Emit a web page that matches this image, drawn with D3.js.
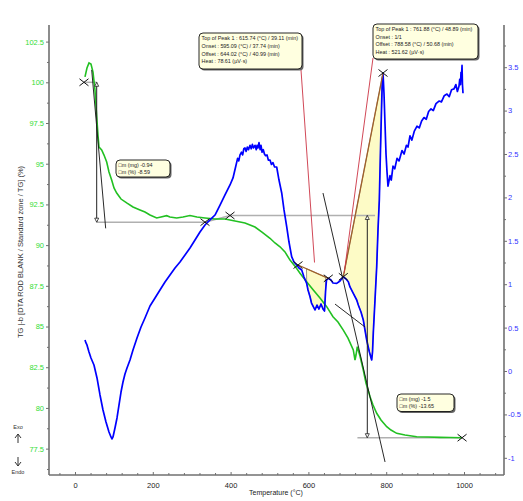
<!DOCTYPE html>
<html><head><meta charset="utf-8">
<script src="https://cdn.jsdelivr.net/npm/d3@7"></script>
<style>body{margin:0;background:#fff}svg{display:block;font-family:"Liberation Sans",Arial,sans-serif}</style>
</head><body><svg id="c" width="523" height="501"></svg>
<script>
// ---- data ----
const tgT = [25.7,30.8,36,41.1,46.3,51.4,55.8,59.1,61.7,68.6,74.6,81.5,87.4,94.3,100.3,107.2,118.3,132.9,149.1,167.1,179.9,192.8,210,221,235.7,244,261.4,277.6,295.6,313.6,334.2,359.9,385.6,411.3,437,462.7,480.7,501.3,514.1,527,539.8,552.7,565.6,578.4,593.8,612.6,629.8,647,663.2,676,689.7,701.8,715.4,719.8,722.4,725.7,732.6,741.1,748,758.4,766.1,775.6,786.6,801.3,812.3,827,848.3,878.4,907.5,938.3,964,994.1];
const tgV = [100.33,100.88,101.19,101.12,100.63,99.53,97.89,96.76,96.03,95.84,95.53,95.10,94.49,94.0,93.51,93.20,92.83,92.59,92.34,92.16,92.03,91.85,91.67,91.73,91.81,91.73,91.67,91.73,91.82,91.73,91.67,91.60,91.60,91.48,91.36,91.11,90.80,90.42,90.13,89.90,89.58,89.08,88.71,88.27,87.79,87.24,86.75,86.22,85.60,85.28,84.78,84.29,83.56,82.94,83.25,83.76,83.19,82.33,81.53,80.69,80.18,79.67,79.26,78.85,78.64,78.44,78.34,78.23,78.21,78.19,78.18,78.17];
const dtaT = [25.7,28.3,30.8,36,41.1,48.8,56.6,64.3,72,79.7,87.4,92.5,95.1,97.7,102.8,108,113.1,118.3,123.4,128.5,133.7,141.4,149.1,159.4,169.7,179.9,192.8,205.7,218.5,231.4,244.2,257.1,269.9,282.8,295.6,308.5,321.3,334.2,347,359.9,372.8,385.6,398.5,406.2,
  413.9,418,421,424.2,428,431,434,437,440,443,446,449.9,453,456,459,462.7,466,468,470.4,473,476,478.1,481,484,487,490,493.6,497,501.3,505,509,513,518.5,
  524.4,531.4,537.3,544.2,550.1,557,562.9,569.9,575.8,582.8,588.7,595.6,599,604.2,608,612.6,617,622.1,627.2,632.4,637.5,641.4,644,646.5,651.2,658.1,663.2,672.8,681.2,689.7,696.7,702.6,706.9,715.4,724.2,728.3,735.2,741.1,745.5,749.9,753.2,756.6,759.7,762.7,764.8,766.8,771.2,775.6,778.9,782.3,785.3,787.9,790,791.8,794.3,796.9,799.5,802,804.6,
  809.8,813,817.5,822,827.8,833,840.6,846,852,856,861.2,866,872,879.2,885,891,897.2,903,909,915.2,921,928,935.7,942,949,956.3,962,968,974.3,979,983,987.1,989,991,992.3,993.5,994.9,996,997.4];
const dtaV = [0.357,0.323,0.30,0.219,0.15,0.069,-0.08,-0.276,-0.449,-0.588,-0.703,-0.76,-0.783,-0.76,-0.657,-0.541,-0.392,-0.242,-0.127,-0.035,0.035,0.127,0.242,0.38,0.507,0.611,0.749,0.841,0.933,1.025,1.106,1.187,1.256,1.336,1.417,1.509,1.601,1.682,1.74,1.797,1.912,2.028,2.143,2.224,
  2.37,2.45,2.42,2.49,2.52,2.49,2.56,2.57,2.53,2.58,2.55,2.6,2.56,2.61,2.57,2.6,2.55,2.6,2.57,2.63,2.55,2.6,2.52,2.55,2.5,2.48,2.49,2.43,2.43,2.38,2.40,2.35,2.35,
  2.2,2.051,1.855,1.662,1.486,1.317,1.256,1.221,1.187,1.164,1.083,1.01,0.933,0.856,0.783,0.741,0.703,0.76,0.714,0.772,0.714,0.691,0.91,1.048,1.068,1.048,1.014,1.010,1.037,1.086,1.06,1.029,0.968,0.895,0.818,0.76,0.68,0.588,0.472,0.357,0.288,0.222,0.173,0.127,0.219,0.438,0.818,1.202,1.624,1.97,2.546,3.007,3.353,3.433,3.2,2.85,2.5,2.3,2.13,
  2.25,2.2,2.36,2.33,2.45,2.42,2.54,2.5,2.6,2.58,2.71,2.66,2.76,2.82,2.8,2.88,2.92,2.9,2.99,3.02,3.0,3.08,3.11,3.1,3.17,3.19,3.16,3.24,3.25,3.3,3.22,3.28,3.36,3.3,3.44,3.38,3.52,3.3,3.2];
const leftTicks = [77.5,80,82.5,85,87.5,90,92.5,95,97.5,100,102.5];
const rightTicks = [-1,-0.5,0,0.5,1,1.5,2,2.5,3,3.5];
const xTicks = [0,200,400,600,800,1000];
// annotations (data units)
const tgMarks = [[23.1,100.0],[334.2,91.41],[398.5,91.82],[995,78.17]];
const dtaMarks = [[573.3,1.221],[651.2,1.068],[689.7,1.086],[791.8,3.433]];
const peak1 = {base:[[573.3,1.221],[651.2,1.068]], onset:595.09, offset:644.02, top:615.74, lead:[615.74,1.25]};
const peak2 = {base:[[689.7,1.086],[791.8,3.433]], onset:689.7, offset:791.8, top:761.88, lead:[692,1.13]};
const step1 = {t0:23.1, t1:55.8, hi:100.0, lo:91.41, tEnd:334.2, tan:[[42.9,100.76],[78.9,91.03]]};
const step2 = {t0:398.5, tArrow:751.4, hi:91.82, lo:78.17, tLo:726, tEnd:995, tan:[[637.5,93.2],[797,76.68]], tan2:[[668.4,86.38],[745.5,84.97]]};
const box1 = ["Top of Peak 1 :  615.74 (°C) / 39.11 (min)","Onset :  595.09 (°C) / 37.74 (min)","Offset :  644.02 (°C) / 40.99 (min)","Heat :  78.61 (µV·s)"];
const box2 = ["Top of Peak 1 :  761.88 (°C) / 48.89 (min)","Onset :  1/1","Offset :  788.58 (°C) / 50.68 (min)","Heat :  521.62 (µV·s)"];
const box3 = ["□m (mg) -0.94","□m (%) -8.59"];
const box4 = ["□m (mg) -1.5","□m (%) -13.65"];

// ---- layout ----
const svg = d3.select("#c");
const L=49,R=504,T=25,B=475;
const x = d3.scaleLinear().domain([-66.8,1102.8]).range([L,R]);
const yL = d3.scaleLinear().domain([75.88,103.52]).range([B,T]);
const yR = d3.scaleLinear().domain([-1.198,3.986]).range([B,T]);
const axisCol="#707070", greenCol="#22c022", blueCol="#0000ff";

// axes
const gl = svg.append("g").attr("transform",`translate(${L},0)`).call(d3.axisLeft(yL).tickValues(leftTicks).tickSize(3).tickPadding(2).tickFormat(d=>d));
const glm = svg.append("g").attr("transform",`translate(${L},0)`).call(d3.axisLeft(yL).tickValues(d3.range(76.25,103.6,2.5)).tickSize(2).tickFormat(""));
const gr = svg.append("g").attr("transform",`translate(${R},0)`).call(d3.axisRight(yR).tickValues(rightTicks).tickSize(3).tickPadding(1).tickFormat(d=>d));
const grm = svg.append("g").attr("transform",`translate(${R},0)`).call(d3.axisRight(yR).tickValues(d3.range(-0.75,3.9,0.5)).tickSize(2).tickFormat(""));
const gb = svg.append("g").attr("transform",`translate(0,${B})`).call(d3.axisBottom(x).tickValues(xTicks).tickSize(-3).tickPadding(8).tickFormat(d=>d));
const gbm = svg.append("g").attr("transform",`translate(0,${B})`).call(d3.axisBottom(x).tickValues(d3.range(-40,1101,40).filter(v=>v%200!==0)).tickSize(-2).tickFormat(""));
[gl,glm,gr,grm,gb,gbm].forEach(g=>{g.select(".domain").attr("stroke",axisCol).attr("stroke-width",1.6);g.selectAll(".tick line").attr("stroke",axisCol);g.selectAll("text").attr("font-size",7.5).attr("font-family","Liberation Sans, Arial, sans-serif");});
gl.selectAll("text").attr("fill","#33dd33");
gr.selectAll("text").attr("fill","#3333ff");
gb.selectAll("text").attr("fill","#222");
glm.select(".domain").remove();grm.select(".domain").remove();gbm.select(".domain").remove();
gl.select(".domain").attr("d",`M0,${T}V${B}`);gr.select(".domain").attr("d",`M0,${T}V${B}`);gb.select(".domain").attr("d",`M${L},0H${R}`);

svg.append("text").attr("x",276).attr("y",495).attr("text-anchor","middle").attr("font-size",7).attr("fill","#222").text("Temperature (°C)");
svg.append("text").attr("transform","translate(23,252) rotate(-90)").attr("text-anchor","middle").attr("font-size",7.5).attr("fill","#333").text("TG |-b [DTA ROD BLANK / Standard zone / TG] (%)");
svg.append("text").attr("x",18).attr("y",429).attr("text-anchor","middle").attr("font-size",5.5).attr("fill","#333").text("Exo");
svg.append("text").attr("x",18).attr("y",474).attr("text-anchor","middle").attr("font-size",5.5).attr("fill","#333").text("Endo");
svg.append("path").attr("d","M18,443V434M15,438L18,434L21,438").attr("stroke","#333").attr("fill","none").attr("stroke-width",1);
svg.append("path").attr("d","M18,457V466M15,462L18,466L21,462").attr("stroke","#333").attr("fill","none").attr("stroke-width",1);

// peak fills
const n = Math.min(dtaT.length, dtaV.length);
const bluePts = dtaT.slice(0,n).map((t,i)=>[t,dtaV[i]]);
function fillPoly(pk){
  const [a,b]=pk.base; const f=t=>a[1]+(t-a[0])/(b[0]-a[0])*(b[1]-a[1]);
  const pts=[[pk.onset,f(pk.onset)],[pk.offset,f(pk.offset)]];
  const cur=bluePts.filter(p=>p[0]>=pk.onset&&p[0]<=pk.offset).reverse();
  return pts.concat(cur);
}
const lineR = d3.line().x(d=>x(d[0])).y(d=>yR(d[1]));
const lineL = d3.line().x(d=>x(d[0])).y(d=>yL(d[1]));
[peak1,peak2].forEach(pk=>{
  svg.append("path").attr("d",lineR(fillPoly(pk))+"Z").attr("fill","#fdfbc6").attr("stroke","#555").attr("stroke-width",0.6);
});

// gray step lines
const gray="#b0b0b0";
svg.append("path").attr("d",lineL([[step1.t0,step1.hi],[step1.t1,step1.hi]])).attr("stroke",gray).attr("stroke-width",1.5).attr("fill","none");
svg.append("path").attr("d",lineL([[step1.t1,step1.lo],[step1.tEnd,step1.lo],[step2.t0,step2.hi],[step2.tArrow+20,step2.hi]])).attr("stroke",gray).attr("stroke-width",1.5).attr("fill","none");
svg.append("path").attr("d",lineL([[step2.tLo,step2.lo],[step2.tEnd,step2.lo]])).attr("stroke",gray).attr("stroke-width",1.5).attr("fill","none");

// curves
const tn = Math.min(tgT.length,tgV.length);
svg.append("path").attr("d",lineL(tgT.slice(0,tn).map((t,i)=>[t,tgV[i]]))).attr("stroke",greenCol).attr("stroke-width",1.6).attr("fill","none");
svg.append("path").attr("d",lineR(bluePts)).attr("stroke",blueCol).attr("stroke-width",1.7).attr("fill","none").attr("stroke-linejoin","round");

// baselines (brown)
[peak1,peak2].forEach(pk=>{svg.append("path").attr("d",lineR(pk.base)).attr("stroke","#a0602a").attr("stroke-width",1.3).attr("fill","none");});

// tangents
svg.append("path").attr("d",lineL(step1.tan)).attr("stroke","#111").attr("stroke-width",0.9).attr("fill","none");
svg.append("path").attr("d",lineL(step2.tan)).attr("stroke","#111").attr("stroke-width",0.9).attr("fill","none");
svg.append("path").attr("d",lineL(step2.tan2)).attr("stroke","#111").attr("stroke-width",0.9).attr("fill","none");

// double arrows
function dArrow(t,v1,v2){
  const xx=x(t), y1=yL(v1), y2=yL(v2);
  svg.append("line").attr("x1",xx).attr("x2",xx).attr("y1",y1).attr("y2",y2).attr("stroke","#222").attr("stroke-width",1);
  svg.append("path").attr("d",`M${xx},${y1}l-2,4h4z`).attr("fill","#fff").attr("stroke","#222").attr("stroke-width",0.8);
  svg.append("path").attr("d",`M${xx},${y2}l-2,-4h4z`).attr("fill","#fff").attr("stroke","#222").attr("stroke-width",0.8);
}
dArrow(step1.t1,step1.hi,step1.lo);
dArrow(step2.tArrow,step2.hi,step2.lo);

// red leader lines
svg.append("line").attr("x1",301).attr("y1",70).attr("x2",x(peak1.lead[0])).attr("y2",yR(peak1.lead[1])).attr("stroke","#cc3344").attr("stroke-width",0.9);
svg.append("line").attr("x1",373).attr("y1",58).attr("x2",x(peak2.lead[0])).attr("y2",yR(peak2.lead[1])).attr("stroke","#cc3344").attr("stroke-width",0.9);

// X markers
function xMark(px,py){svg.append("path").attr("d",`M${px-4.5},${py-3.5}L${px+4.5},${py+3.5}M${px-4.5},${py+3.5}L${px+4.5},${py-3.5}`).attr("stroke","#111").attr("stroke-width",1);}
tgMarks.forEach(d=>xMark(x(d[0]),yL(d[1])));
dtaMarks.forEach(d=>xMark(x(d[0]),yR(d[1])));

// boxes
function box(x0,y0,w,h,lines,fs,lh){
  svg.append("rect").attr("x",x0+1.5).attr("y",y0+1.5).attr("width",w).attr("height",h).attr("rx",4).attr("fill","#666");
  svg.append("rect").attr("x",x0).attr("y",y0).attr("width",w).attr("height",h).attr("rx",4).attr("fill","#ffffe0").attr("stroke","#111").attr("stroke-width",0.9);
  lines.forEach((s,i)=>svg.append("text").attr("x",x0+2.5).attr("y",y0+fs+1.5+i*lh).attr("font-size",fs).attr("fill","#222").text(s));
}
box(199,33,103,36,box1,5.4,7.8);
box(373,24,105,35,box2,5.4,7.6);
box(116,160,54,17,box3,5.4,7);
box(397,394,57,17.5,box4,5.4,7);
</script></body></html>
